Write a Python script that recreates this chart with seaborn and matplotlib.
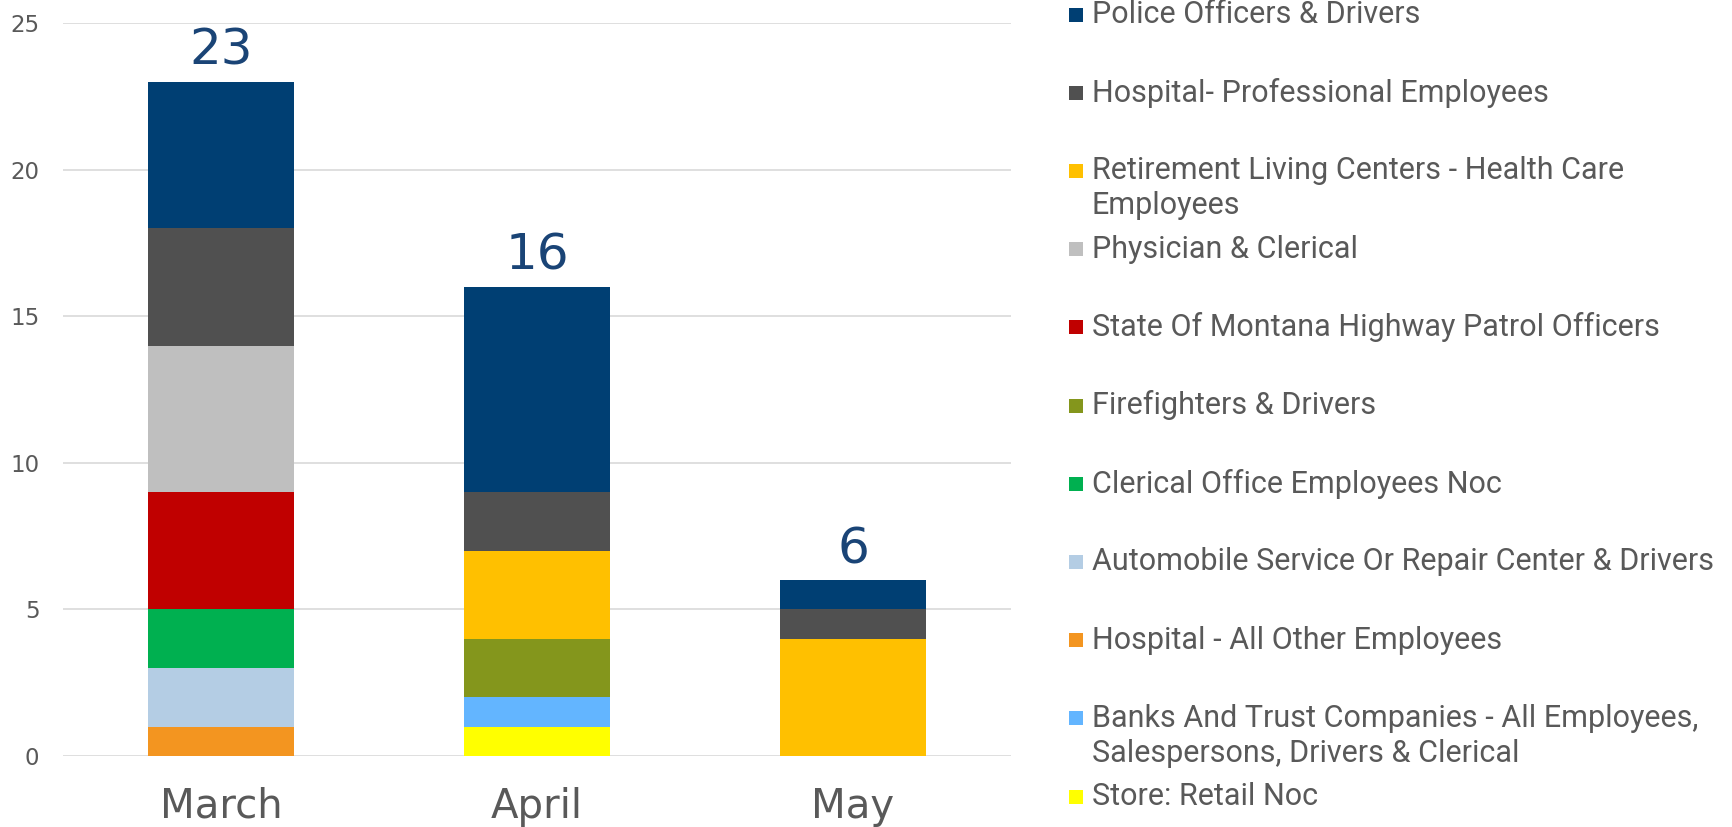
import pandas as pd
import seaborn as sns
import matplotlib.pyplot as plt
from matplotlib.patches import Rectangle

months = ["March", "April", "May"]
classes = [
    "Police Officers & Drivers",
    "Hospital- Professional Employees",
    "Retirement Living Centers - Health Care\nEmployees",
    "Physician & Clerical",
    "State Of Montana Highway Patrol Officers",
    "Firefighters & Drivers",
    "Clerical Office Employees Noc",
    "Automobile Service Or Repair Center & Drivers",
    "Hospital - All Other Employees",
    "Banks And Trust Companies - All Employees,\nSalespersons, Drivers & Clerical",
    "Store: Retail Noc",
]
police = [5, 7, 1]
hosp_prof = [4, 2, 1]
retirement = [0, 3, 4]
physician = [5, 0, 0]
highway = [4, 0, 0]
firefighters = [0, 2, 0]
clerical = [2, 0, 0]
auto = [2, 0, 0]
hosp_other = [1, 0, 0]
banks = [0, 1, 0]
retail = [0, 1, 0]
colors = ["#003F73", "#505050", "#FFC000", "#BFBFBF", "#C00000", "#84961C",
          "#00B050", "#B4CDE4", "#F39520", "#63B5FF", "#FFFF00"]

df = pd.DataFrame(dict(zip(classes, [police, hosp_prof, retirement, physician, highway,
                                     firefighters, clerical, auto, hosp_other, banks, retail])),
                  index=months)
# cumulative from the bottom series up
cum = df[classes[::-1]].cumsum(axis=1)

sns.set_style("white")
fig = plt.figure(figsize=(17.33, 8.27), dpi=100)
ax = fig.add_axes([0.0364, 0.0858, 0.547, 0.8864])

# draw tallest stack first, each lower one over it
for cls, col in zip(classes, colors):
    sns.barplot(x=months, y=cum[cls].values, order=months, color=col, saturation=1,
                width=0.46, linewidth=0, errorbar=None, ax=ax)

ax.bar_label(ax.containers[0], fmt="%g", padding=5, fontsize=36, color="#1A4476")

ax.set_ylim(0, 25)
ax.set_yticks([0, 5, 10, 15, 20, 25])
ax.yaxis.grid(True, color="#D9D9D9", lw=1.2)
ax.set_axisbelow(True)
sns.despine(ax=ax, left=True, bottom=True)
ax.tick_params(axis="y", length=0, pad=17, labelsize=16.5, labelcolor="#595959")
ax.tick_params(axis="x", length=0, pad=22, labelsize=29, labelcolor="#595959")
ax.set_xlabel("")
ax.set_ylabel("")

# legend, one slot per class
W, H = 1733, 827
slot = 78.2
for i, (cls, col) in enumerate(zip(classes, colors)):
    yc = 14.5 + i * slot
    fig.patches.append(Rectangle((1069 / W, 1 - (yc + 7) / H), 14 / W, 14 / H,
                                 transform=fig.transFigure, color=col, lw=0))
    for k, line in enumerate(cls.split("\n")):
        fig.text(1092 / W, 1 - (yc + k * 35) / H, line, va="center", ha="left",
                 fontsize=22, color="#595959",
                 family=["Roboto", "DejaVu Sans"])

fig.savefig("out.png", dpi=100)
